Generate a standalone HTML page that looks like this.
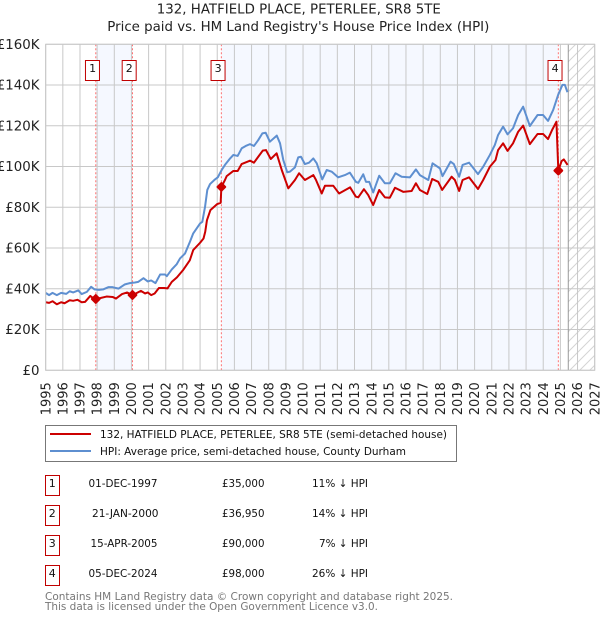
<!DOCTYPE html>
<html lang="en">
<head>
<meta charset="utf-8">
<title>132, Hatfield Place price chart</title>
<style>
html,body{margin:0;padding:0;background:#fff;width:600px;height:620px;overflow:hidden}
svg{display:block;font-family:"DejaVu Sans","Liberation Sans",sans-serif}
</style>
</head>
<body>
<svg id="chart" xmlns="http://www.w3.org/2000/svg" width="600" height="620" viewBox="0 0 600 620">
  <defs>
    <pattern id="hatch" patternUnits="userSpaceOnUse" width="10" height="10">
      <path d="M-1 11L11 -1M-1 1L1 -1M9 11L11 9" stroke="#d4d4d4" stroke-width="1" fill="none"/>
    </pattern>
  </defs>
  <text x="298.8" y="13.5" text-anchor="middle" font-size="13.35" fill="#222" textLength="284" lengthAdjust="spacingAndGlyphs">132, HATFIELD PLACE, PETERLEE, SR8 5TE</text>
  <text x="298.3" y="31" text-anchor="middle" font-size="13.35" fill="#222" textLength="382" lengthAdjust="spacingAndGlyphs">Price paid vs. HM Land Registry's House Price Index (HPI)</text>
  <g id="plot"></g>

  <g>
    <rect x="45.5" y="425.5" width="411" height="36" fill="#fff" stroke="#777" stroke-width="1"/>
    <line x1="50" y1="434" x2="91" y2="434" stroke="#cc0000" stroke-width="2"/>
    <text x="100" y="438" font-size="11" fill="#111" textLength="347" lengthAdjust="spacingAndGlyphs">132, HATFIELD PLACE, PETERLEE, SR8 5TE (semi-detached house)</text>
    <line x1="50" y1="451" x2="91" y2="451" stroke="#5e8fd0" stroke-width="2"/>
    <text x="100" y="455" font-size="11" fill="#111" textLength="306" lengthAdjust="spacingAndGlyphs">HPI: Average price, semi-detached house, County Durham</text>
  </g>

  <g font-size="11" fill="#111">
    <g>
      <rect x="45.5" y="475.5" width="14" height="20" fill="#fff" stroke="#c00000"/>
      <text x="52.3" y="487" text-anchor="middle">1</text>
      <text x="157.5" y="487" text-anchor="end" textLength="69" lengthAdjust="spacingAndGlyphs">01-DEC-1997</text>
      <text x="264.5" y="487" text-anchor="end" textLength="42.5" lengthAdjust="spacingAndGlyphs">£35,000</text>
      <text x="368" y="487" text-anchor="end" textLength="56" lengthAdjust="spacingAndGlyphs">11% ↓ HPI</text>
    </g>
    <g>
      <rect x="45.5" y="505.5" width="14" height="20" fill="#fff" stroke="#c00000"/>
      <text x="52.3" y="517" text-anchor="middle">2</text>
      <text x="158.5" y="517" text-anchor="end" textLength="66.5" lengthAdjust="spacingAndGlyphs">21-JAN-2000</text>
      <text x="264.5" y="517" text-anchor="end" textLength="42.5" lengthAdjust="spacingAndGlyphs">£36,950</text>
      <text x="368" y="517" text-anchor="end" textLength="56" lengthAdjust="spacingAndGlyphs">14% ↓ HPI</text>
    </g>
    <g>
      <rect x="45.5" y="535.5" width="14" height="20" fill="#fff" stroke="#c00000"/>
      <text x="52.3" y="547" text-anchor="middle">3</text>
      <text x="157.5" y="547" text-anchor="end" textLength="67" lengthAdjust="spacingAndGlyphs">15-APR-2005</text>
      <text x="264.5" y="547" text-anchor="end" textLength="42.5" lengthAdjust="spacingAndGlyphs">£90,000</text>
      <text x="368" y="547" text-anchor="end" textLength="49" lengthAdjust="spacingAndGlyphs">7% ↓ HPI</text>
    </g>
    <g>
      <rect x="45.5" y="565.5" width="14" height="20" fill="#fff" stroke="#c00000"/>
      <text x="52.3" y="577" text-anchor="middle">4</text>
      <text x="157.5" y="577" text-anchor="end" textLength="69" lengthAdjust="spacingAndGlyphs">05-DEC-2024</text>
      <text x="264.5" y="577" text-anchor="end" textLength="42.5" lengthAdjust="spacingAndGlyphs">£98,000</text>
      <text x="368" y="577" text-anchor="end" textLength="56" lengthAdjust="spacingAndGlyphs">26% ↓ HPI</text>
    </g>
  </g>

  <text x="45" y="600" font-size="11" fill="#777" textLength="408" lengthAdjust="spacingAndGlyphs">Contains HM Land Registry data © Crown copyright and database right 2025.</text>
  <text x="45" y="610" font-size="11" fill="#777" textLength="333" lengthAdjust="spacingAndGlyphs">This data is licensed under the Open Government Licence v3.0.</text>
</svg>

<script>
var xTickYears = [1995,1996,1997,1998,1999,2000,2001,2002,2003,2004,2005,2006,2007,2008,2009,2010,2011,2012,2013,2014,2015,2016,2017,2018,2019,2020,2021,2022,2023,2024,2025,2026,2027];
var yTickValues = [0,20,40,60,80,100,120,140,160];
var yTickLabels = ['£0','£20K','£40K','£60K','£80K','£100K','£120K','£140K','£160K'];

var hpiDates = [1995,1995.2,1995.4,1995.65,1995.9,1996.2,1996.4,1996.6,1996.9,1997.1,1997.4,1997.65,1997.85,1998.1,1998.35,1998.65,1998.9,1999.25,1999.6,1999.9,2000.2,2000.4,2000.7,2000.95,2001.15,2001.4,2001.67,2001.96,2002.06,2002.35,2002.64,2002.83,2003.12,2003.41,2003.6,2004,2004.13,2004.29,2004.42,2004.58,2004.87,2005.03,2005.26,2005.45,2005.75,2005.94,2006.19,2006.43,2006.66,2006.91,2007.14,2007.39,2007.63,2007.82,2008.07,2008.47,2008.66,2008.85,2009.08,2009.24,2009.53,2009.72,2009.88,2010.11,2010.35,2010.6,2010.8,2011.12,2011.38,2011.67,2012.05,2012.44,2012.73,2013.08,2013.22,2013.51,2013.67,2013.86,2014.09,2014.44,2014.77,2015.06,2015.39,2015.75,2016.23,2016.58,2016.81,2017.3,2017.55,2017.98,2018.13,2018.6,2018.79,2019.1,2019.3,2019.68,2020.2,2020.5,2020.89,2021.18,2021.37,2021.66,2021.92,2022.24,2022.54,2022.83,2023.22,2023.67,2023.99,2024.28,2024.58,2024.87,2025.12,2025.26,2025.41];
var hpiValues = [38,36.9,38,36.9,38,37.5,38.8,38.2,39.2,37.4,38.5,41,39.7,39.5,39.7,40.8,40.8,40.1,42.1,42.8,43.1,43.4,45.2,43.6,44.1,42.8,47,47,46.2,49.5,52.1,54.9,57.3,63.1,67.2,72.1,72.9,80.3,88.5,91.4,93.7,94.7,98.3,100.8,104,105.7,105.2,109,110.1,111,110.1,113,116.3,116.6,112.2,115.2,111.4,103.2,97.2,97.5,99.6,104.5,104.8,101.2,101.9,104,101.6,93.7,98.3,97.5,94.7,95.8,97,92.5,92,96.2,92.5,92.5,87.3,95.5,91.8,91.8,96.7,95,94.7,98.6,95.8,93.4,101.6,99.1,95.3,102.4,101.2,95,100.8,101.9,96.3,99.9,105.7,110.6,115.5,119.6,115.8,118.8,125.3,129.4,119.9,125.3,125.3,122.4,127.8,135.2,140.1,140.1,136.5];

var priceDates = [1995,1995.2,1995.4,1995.65,1995.9,1996.1,1996.4,1996.6,1996.85,1997.1,1997.3,1997.6,1997.8,1997.92,1998.2,1998.55,1998.9,1999.1,1999.45,1999.75,2000.06,2000.25,2000.55,2000.8,2000.95,2001.15,2001.35,2001.6,2001.9,2002.1,2002.35,2002.65,2003,2003.4,2003.6,2004,2004.2,2004.3,2004.4,2004.6,2005,2005.2,2005.24,2005.45,2005.55,2005.93,2006.19,2006.42,2006.91,2007.14,2007.39,2007.65,2007.84,2008.12,2008.46,2008.76,2009.14,2009.53,2009.77,2010.11,2010.6,2010.75,2011.09,2011.28,2011.76,2012.1,2012.74,2013.08,2013.22,2013.55,2013.8,2014.09,2014.44,2014.77,2015.06,2015.36,2015.84,2016.33,2016.58,2016.81,2017.24,2017.53,2017.88,2018.11,2018.66,2018.85,2019.1,2019.3,2019.68,2020.2,2020.5,2020.89,2021.22,2021.37,2021.66,2021.92,2022.24,2022.54,2022.83,2023.22,2023.67,2023.99,2024.28,2024.52,2024.77,2024.88,2025.07,2025.2,2025.42];
var priceValues = [33.4,33.1,33.9,32.4,33.4,32.9,34.4,34.1,34.6,33.4,33.6,36.5,35.2,35,35.5,36.2,36,35.2,37.4,38.2,36.95,37.7,39,37.7,38.2,36.9,37.7,40.4,40.4,40.2,43.4,45.6,49.1,54,59,62.6,64.7,68,73.7,78.6,81.6,82.2,90,93.4,95.3,97.8,97.8,101.2,102.9,101.9,104.8,107.8,108.1,103.7,106.5,98.3,89.3,93.4,96.7,93.4,95.8,93.5,86.8,90.6,90.6,86.8,89.8,85.2,84.9,88.9,86,81.1,88.5,84.9,84.7,89.6,87.6,88,91.8,88.5,86.5,93.9,92.5,88.5,95,93.4,88,93.4,94.7,89,93.4,99.9,103.2,108.1,111.4,107.7,111.4,117.1,120.1,111,116,116,113.5,118,122,98,102.7,103.5,100.8];

var saleLabels = ['1','2','3','4'];
var saleDates = [1997.92,2000.06,2005.24,2024.88];
var salePrices = [35,36.95,90,98];
var dataEndDate = 2025.46;

var NS = 'http://www.w3.org/2000/svg';
var plot = document.getElementById('plot');
var LEFT = 45.67, RIGHT = 594.7, TOP = 44.3, BOTTOM = 370.3;
function xScale(year){ return LEFT + (year - 1995) * (RIGHT - LEFT) / 32; }
function yScale(value){ return BOTTOM - value * (BOTTOM - TOP) / 160; }
function make(tag, attrs, parent){
  var el = document.createElementNS(NS, tag);
  for (var k in attrs) el.setAttribute(k, attrs[k]);
  (parent || plot).appendChild(el);
  return el;
}
function pathFrom(dates, values){
  var d = '';
  for (var i = 0; i < dates.length; i++) d += (i ? 'L' : 'M') + xScale(dates[i]).toFixed(2) + ' ' + yScale(values[i]).toFixed(2);
  return d;
}

/* shaded ownership bands */
var band1 = make('rect', {x:xScale(saleDates[0]), y:TOP, width:xScale(saleDates[1])-xScale(saleDates[0]), height:BOTTOM-TOP, fill:'#f5f8ff'});


var band2 = make('rect', {x:xScale(saleDates[2]), y:TOP, width:xScale(saleDates[3])-xScale(saleDates[2]), height:BOTTOM-TOP, fill:'#f5f8ff'});


var hatchArea = make('rect', {x:xScale(dataEndDate), y:TOP, width:RIGHT-xScale(dataEndDate), height:BOTTOM-TOP, fill:'url(#hatch)'});



/* grid and ticks */
yTickValues.forEach(function(v, i){
  var line = make('line', {x1:LEFT, x2:RIGHT, y1:yScale(v), y2:yScale(v), stroke:'#c8c8c8', 'stroke-width':1});
  
  
  var label = make('text', {x:39.5, y:yScale(v)+4.6, 'text-anchor':'end', 'font-size':13.35, fill:'#222'});
  
  
  label.textContent = yTickLabels[i];
});
xTickYears.forEach(function(y){
  var x = xScale(y);
  var line = make('line', {x1:x, x2:x, y1:TOP, y2:BOTTOM, stroke:'#c8c8c8', 'stroke-width':1});
  
  
  var label = make('text', {transform:'translate(' + (x+4.6) + ',415.3) rotate(-90)', 'font-size':13, fill:'#222'});
  
  
  label.textContent = y;
});

/* data-end marker */
var endLine = make('line', {x1:xScale(dataEndDate), x2:xScale(dataEndDate), y1:TOP, y2:BOTTOM, stroke:'#999', 'stroke-width':1});



/* sale guides */
saleDates.forEach(function(d){
  var guide = make('line', {x1:xScale(d), x2:xScale(d), y1:TOP, y2:BOTTOM, stroke:'#ff5a5a', 'stroke-width':1, 'stroke-dasharray':'2 2', opacity:0.85});
  
  
});

/* series */
var hpiLine = make('path', {d:pathFrom(hpiDates, hpiValues), fill:'none', stroke:'#5e8fd0', 'stroke-width':2, 'stroke-linejoin':'round'});


var priceLine = make('path', {d:pathFrom(priceDates, priceValues), fill:'none', stroke:'#cc0000', 'stroke-width':2, 'stroke-linejoin':'round'});



/* plot frame */
var frame = make('rect', {x:LEFT, y:TOP, width:RIGHT-LEFT, height:BOTTOM-TOP, fill:'none', stroke:'#c8c8c8', 'stroke-width':1});



/* sale markers and badges */
saleDates.forEach(function(d, i){
  var cx = xScale(d), cy = yScale(salePrices[i]), r = 3.9;
  var marker = make('path', {d:'M'+cx+' '+(cy-r)+'L'+(cx+r)+' '+cy+'L'+cx+' '+(cy+r)+'L'+(cx-r)+' '+cy+'Z', fill:'#cc0000', stroke:'#cc0000', 'stroke-width':2, 'stroke-linejoin':'round'});
  
  
  var badge = make('rect', {x:cx-10.3, y:60.5, width:14, height:20, fill:'#fff', stroke:'#c00000', 'stroke-width':1});
  
  
  var num = make('text', {x:cx-3.2, y:72, 'text-anchor':'middle', 'font-size':11, fill:'#111'});
  
  
  num.textContent = saleLabels[i];
});
</script>
</body>
</html>
